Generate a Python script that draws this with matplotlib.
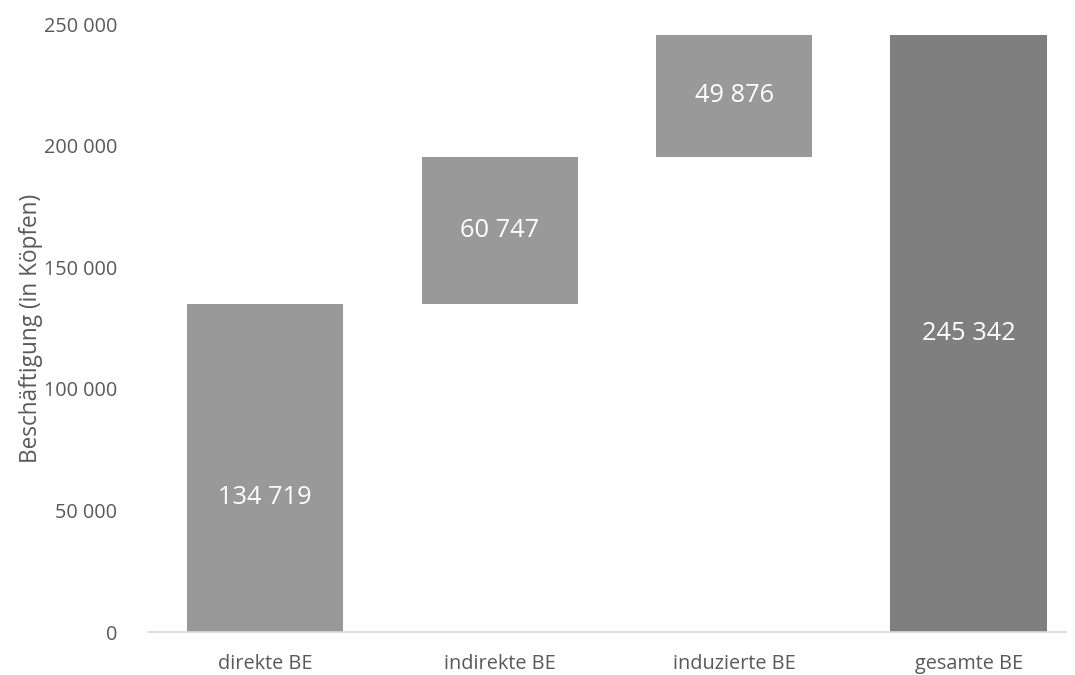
import matplotlib
matplotlib.use("Agg")
import matplotlib.pyplot as plt
from matplotlib.ticker import FuncFormatter

categories = ["direkte BE", "indirekte BE", "induzierte BE", "gesamte BE"]
values = [134719, 60747, 49876, 245342]
is_total = [False, False, False, True]
yticks = [0, 50000, 100000, 150000, 200000, 250000]

plt.rcParams['font.family'] = ['Open Sans', 'DejaVu Sans']

fig = plt.figure(figsize=(10.75, 6.75), dpi=100)
ax = fig.add_axes([148/1075, (675-632)/675, (1066-148)/1075, (632-24)/675])

def fmt(v):
    return f"{int(v):,}".replace(",", " ")

label_frac = [0.41, 0.5, 0.5, 0.5]
running = 0
for i, (cat, v, tot) in enumerate(zip(categories, values, is_total)):
    if tot:
        bottom = 0
        color = "#7f7f7f"
    else:
        bottom = running
        running += v
        color = "#999999"
    ax.bar(i, v, bottom=bottom, width=0.667, color=color, zorder=2)
    ax.text(i, bottom + v * label_frac[i], fmt(v), ha="center", va="center",
            color="white", fontsize=18.3, zorder=3)

ax.set_xlim(-0.5, 3.415)
ax.set_ylim(0, 250000)
ax.set_yticks(yticks)
ax.yaxis.set_major_formatter(FuncFormatter(lambda v, p: fmt(v)))
ax.set_xticks(range(len(categories)))
ax.set_xticklabels(categories)
ax.tick_params(axis="both", length=0, labelsize=14.3, colors="#595959")
ax.tick_params(axis="y", pad=22)
ax.tick_params(axis="x", pad=16)
for s in ["top", "right", "left"]:
    ax.spines[s].set_visible(False)
ax.spines["bottom"].set_color("#d9d9d9")
ax.spines["bottom"].set_linewidth(1.2)
ax.set_ylabel("Beschäftigung (in Köpfen)", fontsize=16.3, color="#595959", labelpad=1)

fig.savefig("out.png", dpi=100)
